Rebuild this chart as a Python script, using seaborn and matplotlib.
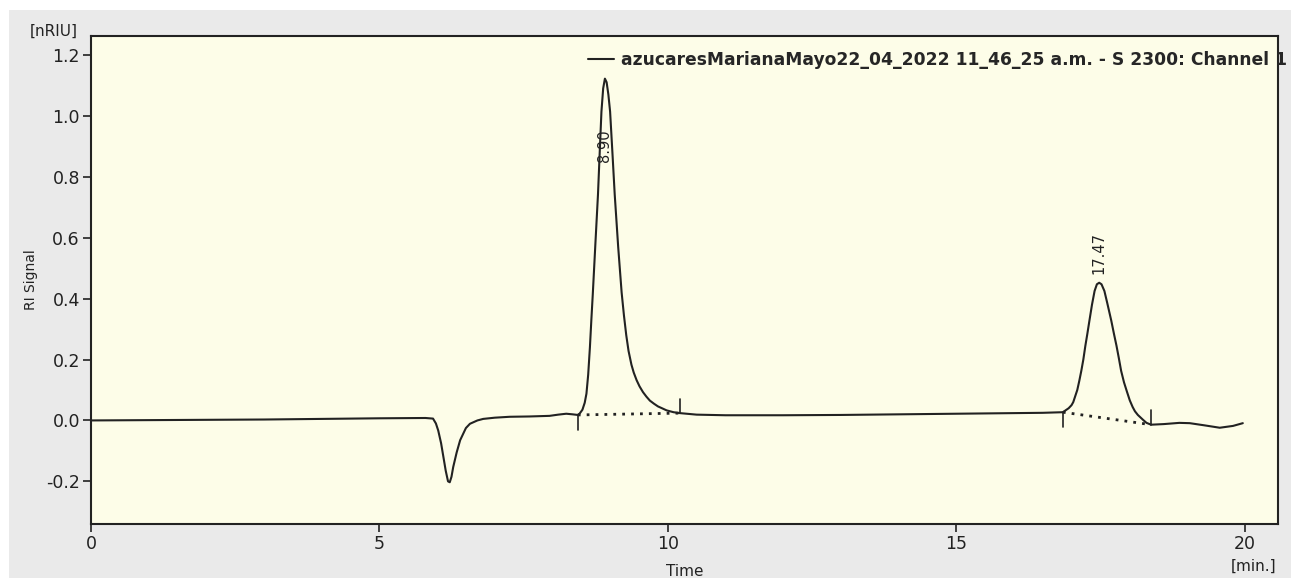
import matplotlib
matplotlib.use("Agg")
import matplotlib.pyplot as plt
import matplotlib.patches as mpatches
import pandas as pd
import seaborn as sns

# Cromatograma RI (tiempo en min, senal en nRIU)
time = [0.0, 1.0, 2.0, 3.0, 4.0, 5.0, 5.8, 5.93, 5.98, 6.02, 6.07, 6.11, 6.15, 6.19,
        6.22, 6.25, 6.28, 6.34, 6.40, 6.50, 6.57, 6.70, 6.80, 7.0, 7.26, 7.6, 7.95,
        8.1, 8.24, 8.35, 8.44, 8.47, 8.52, 8.56, 8.59, 8.62, 8.65, 8.675, 8.70, 8.745,
        8.79, 8.82, 8.85, 8.88, 8.91, 8.94, 8.97, 9.0, 9.04, 9.08, 9.14, 9.20, 9.24,
        9.28, 9.32, 9.37, 9.41, 9.46, 9.51, 9.57, 9.63, 9.69, 9.76, 9.83, 9.90, 9.98,
        10.1, 10.21, 10.5, 11.0, 12.0, 13.0, 14.0, 15.0, 16.0, 16.5, 16.85, 16.95,
        17.0, 17.03, 17.065, 17.10, 17.135, 17.17, 17.205, 17.24, 17.275, 17.31,
        17.355, 17.40, 17.44, 17.48, 17.52, 17.57, 17.62, 17.69, 17.735, 17.78, 17.82,
        17.86, 17.91, 17.96, 18.01, 18.06, 18.10, 18.15, 18.24, 18.30, 18.38, 18.6,
        18.87, 19.05, 19.3, 19.57, 19.8, 19.97]
signal = [0.000, 0.001, 0.002, 0.003, 0.005, 0.007, 0.008, 0.006, -0.010, -0.033,
          -0.075, -0.120, -0.165, -0.200, -0.203, -0.185, -0.153, -0.105, -0.065,
          -0.025, -0.011, 0.000, 0.005, 0.009, 0.012, 0.013, 0.015, 0.019, 0.022,
          0.020, 0.018, 0.022, 0.035, 0.058, 0.088, 0.150, 0.240, 0.330, 0.415, 0.580,
          0.742, 0.880, 1.014, 1.090, 1.122, 1.110, 1.070, 1.014, 0.880, 0.742, 0.570,
          0.420, 0.345, 0.280, 0.228, 0.183, 0.157, 0.132, 0.112, 0.093, 0.078, 0.065,
          0.055, 0.046, 0.040, 0.033, 0.027, 0.024, 0.019, 0.017, 0.017, 0.018, 0.020,
          0.022, 0.024, 0.025, 0.027, 0.040, 0.050, 0.060, 0.080, 0.100, 0.130, 0.163,
          0.200, 0.245, 0.285, 0.327, 0.380, 0.425, 0.447, 0.452, 0.447, 0.425, 0.385,
          0.327, 0.285, 0.245, 0.205, 0.163, 0.125, 0.095, 0.066, 0.044, 0.030, 0.018,
          0.002, -0.008, -0.014, -0.012, -0.008, -0.009, -0.016, -0.024, -0.018, -0.009]

# Picos integrados: inicio, fin, linea base y tiempo de retencion
peak_start = [(8.44, 0.018), (16.85, 0.027)]
peak_end = [(10.21, 0.024), (18.38, -0.014)]
peak_rt = [8.90, 17.47]
peak_label_y = [0.955, 0.48]

legend_label = "azucaresMarianaMayo22_04_2022 11_46_25 a.m. - S 2300: Channel 1"

df = pd.DataFrame({"Time": time, "RI Signal": signal})

sns.set_style("ticks")
plt.rcParams["font.family"] = ["DejaVu Sans"]
plt.rcParams["axes.unicode_minus"] = False

fig = plt.figure(figsize=(12.91, 5.78), dpi=100, facecolor="white")
fig.patches.append(mpatches.Rectangle((9 / 1291, 0), 1, 1 - 10 / 578,
                                      transform=fig.transFigure, facecolor="#eaeaea",
                                      edgecolor="none", zorder=-10))
ax = fig.add_axes([91 / 1291, 54 / 578, 1187 / 1291, 488 / 578])
ax.set_facecolor("#fdfde8")

sns.lineplot(data=df, x="Time", y="RI Signal", ax=ax, color="#222222", lw=1.5,
             label=legend_label)

# lineas base punteadas y marcas de integracion
for (x0, y0), (x1, y1) in zip(peak_start, peak_end):
    ax.plot([x0, x1], [y0, y1], color="#222222", lw=2, ls=(0, (1, 2.2)))
    ax.plot([x0, x0], [y0, y0 - 0.05], color="#222222", lw=1.2)
    ax.plot([x1, x1], [y1, y1 + 0.047], color="#222222", lw=1.2)

for rt, ly, va in zip(peak_rt, peak_label_y, ["top", "bottom"]):
    ax.text(rt, ly, f"{rt:.2f}", rotation=90, ha="center", va=va, fontsize=10.5,
            color="#222222")

ax.set_xlim(0, 20.58)
ax.set_ylim(-0.34, 1.262)
ax.set_xticks([0, 5, 10, 15, 20])
ax.set_yticks([-0.2, 0.0, 0.2, 0.4, 0.6, 0.8, 1.0, 1.2])
ax.set_yticklabels([f"{v:.1f}" for v in ax.get_yticks()])
ax.tick_params(direction="out", length=6, width=1.2, colors="#222222",
               labelsize=12.5, pad=2)
for s in ax.spines.values():
    s.set_color("#222222")
    s.set_linewidth(1.5)

ax.set_xlabel("Time", fontsize=11, color="#222222", labelpad=8)
ax.set_ylabel("RI Signal", fontsize=10, color="#222222", labelpad=6)
fig.text(54 / 1291, 1 - 31 / 578, "[nRIU]", fontsize=11, color="#222222",
         ha="center", va="center")
fig.text(1254 / 1291, 1 - 566 / 578, "[min.]", fontsize=11, color="#222222",
         ha="center", va="center")

ax.legend(loc="upper left", bbox_to_anchor=(0.4187, 0.97), frameon=False,
          borderpad=0, borderaxespad=0, handlelength=1.5, handletextpad=0.45,
          prop={"weight": "bold", "size": 12.3})

plt.savefig("out.png", dpi=100, facecolor=fig.get_facecolor())
